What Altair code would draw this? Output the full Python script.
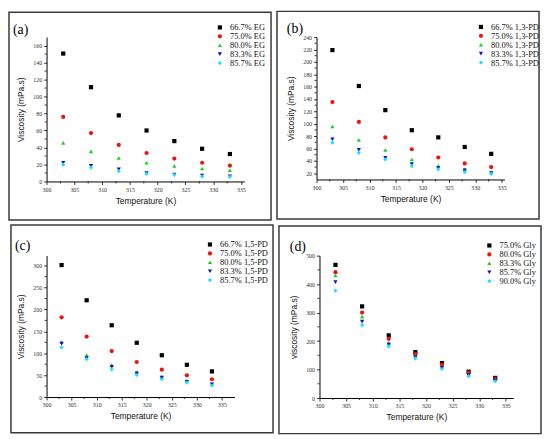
import altair as alt
import pandas as pd

SERIF = "Liberation Serif"
SANS = "Liberation Sans"

TEMPS = [303, 308, 313, 318, 323, 328, 333]
X_TICKS = [300, 305, 310, 315, 320, 325, 330, 335]
X_MINOR = [302.5, 307.5, 312.5, 317.5, 322.5, 327.5, 332.5]

COLORS = ["#000000", "#ee1111", "#22cc22", "#1010c8", "#22ddff"]
SHAPES = ["square", "circle", "triangle-up", "triangle-down", "diamond"]

# (a) ethylene glycol
EG_LABELS = ["66.7% EG", "75.0% EG", "80.0% EG", "83.3% EG", "85.7% EG"]
EG_VALUES = [
    [150.6, 111, 77.8, 60, 47.5, 38.5, 32.3],
    [76, 57, 43, 33.5, 27, 22, 18.7],
    [45.5, 35.4, 27.6, 22, 18.3, 15.2, 13.2],
    [22, 18.3, 14.4, 10, 8.2, 7, 6.2],
    [19.8, 16.3, 12, 9, 7.8, 5.8, 5.4],
]

# (b) 1,3-propanediol
PD13_LABELS = ["66.7% 1,3-PD", "75.0% 1,3-PD", "80.0% 1,3-PD", "83.3% 1,3-PD", "85.7% 1,3-PD"]
PD13_VALUES = [
    [219, 161, 122, 89.6, 78, 62.5, 51.4],
    [135, 103, 78, 58.8, 45.5, 36, 30],
    [95.5, 74, 57.7, 42.3, 32.2, 26.4, 21],
    [75, 58, 45, 35, 28.5, 24.8, 20.5],
    [69.4, 53, 42.3, 31.7, 26.4, 22, 19],
]

# (c) 1,5-pentanediol
PD15_LABELS = ["66.7% 1,5-PD", "75.0% 1,5-PD", "80.0% 1,5-PD", "83.3% 1,5-PD", "85.7% 1,5-PD"]
PD15_VALUES = [
    [301.5, 221, 164, 124, 95.5, 73.7, 58.6],
    [182, 138, 105, 80, 62.4, 49.6, 40.6],
    [125.6, 96, 73, 57, 46, 37.6, 30],
    [122, 89, 69, 54, 44.4, 34.6, 29.3],
    [113.5, 86.5, 63, 50.4, 40.6, 33, 26.3],
]

# (d) glycerol
GLY_LABELS = ["75.0% Gly", "80.0% Gly", "83.3% Gly", "85.7% Gly", "90.0% Gly"]
GLY_VALUES = [
    [467.6, 321.8, 220, 161, 122.7, 92.6, 70.6],
    [442, 300, 208, 154, 117, 89, 67],
    [430.5, 286, 194.4, 148, 110, 84.5, 64],
    [407, 268.5, 187.5, 143.5, 106.5, 81, 62.5],
    [377, 256, 181.7, 139, 102, 76.4, 59],
]

BOX_W, BOX_H = 265, 210


def panel(tag, labels, values, y_title, x_dom, y_dom, y_ticks, y_minor,
          size, offset, legend_xy, tag_xy):
    w, h = size
    ox, oy = offset
    df = pd.DataFrame([
        {"T": t, "v": v, "series": lab}
        for lab, vals in zip(labels, values)
        for t, v in zip(TEMPS, vals)
    ])
    x_scale = alt.Scale(domain=x_dom, nice=False, zero=False)
    y_scale = alt.Scale(domain=y_dom, nice=False, zero=False)
    x_axis = alt.Axis(values=X_TICKS, title="Temperature (K)", titlePadding=4)
    y_axis = alt.Axis(values=y_ticks, title=y_title, titlePadding=7)

    legend = alt.Legend(
        title=None, orient="none", legendX=legend_xy[0], legendY=legend_xy[1],
        labelFont=SERIF, labelFontSize=8.5, labelColor="#111", symbolSize=18,
        rowPadding=0, padding=0, labelOffset=6, symbolStrokeWidth=0,
    )

    one = pd.DataFrame({"k": [0]})
    frame = alt.Chart(one).mark_rect(fillOpacity=0, stroke="#3a3a3a", strokeWidth=1.5).encode(
        x=alt.value(-ox), x2=alt.value(BOX_W - ox),
        y=alt.value(-oy), y2=alt.value(BOX_H - oy),
    )
    label = alt.Chart(one).mark_text(
        text=tag, font=SERIF, fontSize=14, align="left", baseline="middle"
    ).encode(x=alt.value(tag_xy[0]), y=alt.value(tag_xy[1]))

    # minor ticks, placed through the same scales as the data
    xminor = alt.Chart(pd.DataFrame({"T": X_MINOR})).mark_rule(color="black", strokeWidth=0.8).encode(
        x=alt.X("T:Q", scale=x_scale, axis=x_axis),
        y=alt.value(h), y2=alt.value(h + 2),
    )
    yminor = alt.Chart(pd.DataFrame({"v": y_minor})).mark_rule(color="black", strokeWidth=0.8).encode(
        y=alt.Y("v:Q", scale=y_scale, axis=y_axis),
        x=alt.value(0), x2=alt.value(-2),
    )

    pts = alt.Chart(df).mark_point(filled=True, size=18, opacity=1).encode(
        x=alt.X("T:Q", scale=x_scale, axis=x_axis),
        y=alt.Y("v:Q", scale=y_scale, axis=y_axis),
        color=alt.Color("series:N", scale=alt.Scale(domain=labels, range=COLORS), legend=legend),
        shape=alt.Shape("series:N", scale=alt.Scale(domain=labels, range=SHAPES), legend=legend),
    )
    return alt.layer(frame, pts, xminor, yminor, label).properties(width=w, height=h)


a = panel("(a)", EG_LABELS, EG_VALUES, "Viscosity (mPa.s)", [300, 335.6], [0, 170],
          list(range(0, 161, 20)), list(range(10, 151, 20)),
          (200, 146), (38, 25), (171, -14), (-34, -7))
b = panel("(b)", PD13_LABELS, PD13_VALUES, "Viscosity (mPa.s)", [300, 335.5], [10, 240],
          list(range(20, 241, 20)), list(range(30, 231, 20)),
          (190, 144), (40, 26), (162, -14.5), (-30, -8))
c = panel("(c)", PD15_LABELS, PD15_VALUES, "Viscosity (mPa.s)", [300, 337.5], [0, 323],
          list(range(0, 301, 50)), list(range(25, 276, 50)),
          (190, 143), (36, 31), (161, -15.5), (-32, -10))
d = panel("(d)", GLY_LABELS, GLY_VALUES, "viscosity (mPa.s)", [300, 336.4], [0, 500],
          list(range(0, 501, 100)), list(range(50, 451, 100)),
          (196, 144), (41, 30), (167.5, -14.5), (-30, -9))

top = alt.hconcat(a, b, spacing=4).resolve_scale(color="independent", shape="independent")
bottom = alt.hconcat(c, d, spacing=4).resolve_scale(color="independent", shape="independent")

chart = alt.vconcat(top, bottom, spacing=3).resolve_scale(
    color="independent", shape="independent"
).properties(
    padding=0, background="white"
).configure_axis(
    grid=False, domainColor="black", domainWidth=1, tickColor="black", tickSize=3, tickWidth=0.8,
    labelFont=SERIF, labelFontSize=6, labelColor="#333", labelPadding=2, labelFlush=False,
    titleFont=SANS, titleFontSize=8.5, titleFontWeight="normal", titleColor="#111",
).configure_view(
    strokeWidth=0,
)

chart.save("out.html", embed_options={"renderer": "svg", "actions": False})
